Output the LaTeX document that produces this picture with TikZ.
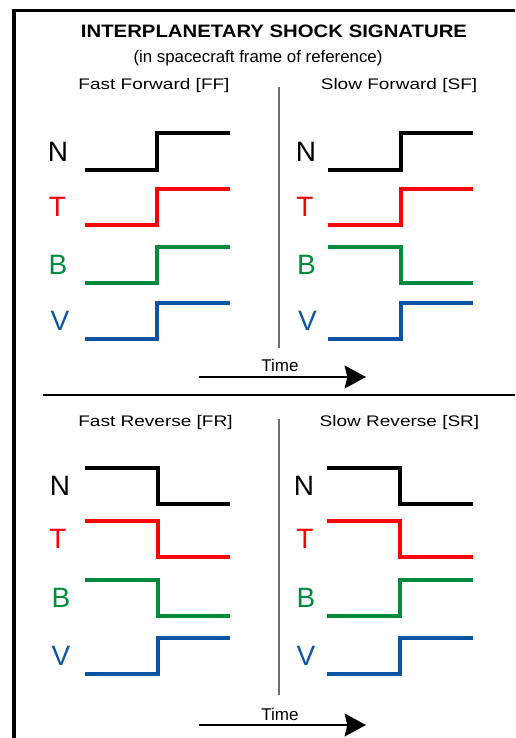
\documentclass[tikz,border=0pt]{standalone}
\usepackage{fontspec}
\setmainfont{Liberation Sans}
\newfontfamily\titlefont[FakeStretch=1.13]{Liberation Sans}
\newfontfamily\labelfont[FakeStretch=1.24]{Liberation Sans}
\newfontfamily\subfont[FakeStretch=1.01]{Liberation Sans}
\usetikzlibrary{arrows.meta}
\definecolor{sigred}{RGB}{255,0,0}
\definecolor{siggreen}{RGB}{0,138,62}
\definecolor{sigblue}{RGB}{14,84,164}
\definecolor{sepgray}{RGB}{110,110,110}
\tikzset{
  sig/.style={line width=3pt, line join=miter, line cap=butt},
  letter/.style={inner sep=0pt, font=\fontsize{21}{25}\selectfont},
  panellabel/.style={anchor=base, inner sep=0pt, font=\labelfont\fontsize{11.5}{14}\selectfont},
  timelabel/.style={anchor=base, inner sep=0pt, font=\fontsize{12.75}{15}\selectfont},
  timearrow/.style={line width=2.2pt, -{Stealth[length=16pt,width=17pt,inset=2pt]}},
  divider/.style={sepgray, line width=1.1pt},
}
\begin{document}
\begin{tikzpicture}[x=0.75pt,y=-0.75pt]
\useasboundingbox (0,0) rectangle (515,738);
% frame
\draw[line width=2.4pt, line join=miter] (14,738) -- (14,10.3) -- (515,10.3);
% title
\node[anchor=base, inner sep=0pt, font=\titlefont\bfseries\fontsize{13.5}{16}\selectfont] (title) at (274,37.7) {INTERPLANETARY SHOCK SIGNATURE};
\node[anchor=base, inner sep=0pt, font=\subfont\fontsize{12.5}{15}\selectfont] (subtitle) at (258,62.5) {(in spacecraft frame of reference)};
% panel labels
\node[panellabel] (ff) at (154,89.3) {Fast Forward [FF]};
\node[panellabel] (sf) at (399,89.3) {Slow Forward [SF]};
\node[panellabel] (fr) at (155.5,426) {Fast Reverse [FR]};
\node[panellabel] (sr) at (399.5,426) {Slow Reverse [SR]};
% dividers
\draw[divider] (279,87) -- (279,348);
\draw[divider] (279,419) -- (279,695);
\draw[line width=1pt] (43,395) -- (515,395);
% letters upper left
\node[letter, black] (ffN) at (58,151.5) {N};
\node[letter, sigred] (ffT) at (57.5,207) {T};
\node[letter, siggreen] (ffB) at (58,265) {B};
\node[letter, sigblue] (ffV) at (60,321) {V};
% letters upper right
\node[letter, black] (sfN) at (306,151.5) {N};
\node[letter, sigred] (sfT) at (305,207) {T};
\node[letter, siggreen] (sfB) at (306.5,265) {B};
\node[letter, sigblue] (sfV) at (307.5,321) {V};
% letters lower left
\node[letter, black] (frN) at (60,486) {N};
\node[letter, sigred] (frT) at (58,539) {T};
\node[letter, siggreen] (frB) at (61,598) {B};
\node[letter, sigblue] (frV) at (61,656) {V};
% letters lower right
\node[letter, black] (srN) at (304,486) {N};
\node[letter, sigred] (srT) at (305,539) {T};
\node[letter, siggreen] (srB) at (306,598) {B};
\node[letter, sigblue] (srV) at (306,656) {V};
% signals upper left
\foreach \c/\a/\b in {black/170/133, sigred/225/189, siggreen/283/247, sigblue/339/303}
  \draw[sig, \c] (85,\a) -| (157,\b) -- (230,\b);
% signals upper right
\foreach \c/\a/\b in {black/170/133, sigred/225/189, siggreen/247/283, sigblue/339/303}
  \draw[sig, \c] (328,\a) -| (401,\b) -- (473,\b);
% signals lower left
\foreach \c/\a/\b in {black/468/504, sigred/521/557, siggreen/580/616, sigblue/674/638}
  \draw[sig, \c] (85,\a) -| (158,\b) -- (230,\b);
% signals lower right
\foreach \c/\a/\b in {black/468/504, sigred/521/557, siggreen/616/580, sigblue/674/638}
  \draw[sig, \c] (327,\a) -| (400,\b) -- (473,\b);
% time arrows
\coordinate (t1s) at (199,377);
\coordinate (t1e) at (366,377);
\coordinate (t2s) at (199,725);
\coordinate (t2e) at (366,725);
\node[timelabel] (time1) at (280,371.7) {Time};
\node[timelabel] (time2) at (280,720) {Time};
\draw[timearrow] (t1s) -- (t1e);
\draw[timearrow] (t2s) -- (t2e);
\end{tikzpicture}
\end{document}
